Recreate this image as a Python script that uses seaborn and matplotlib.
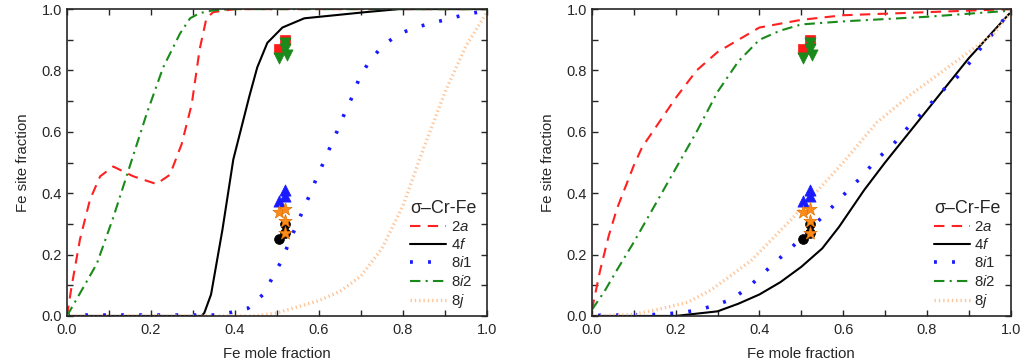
import numpy as np
import matplotlib
matplotlib.use("Agg")
import matplotlib.pyplot as plt
import seaborn as sns
from matplotlib.ticker import MultipleLocator

sns.set_theme(style="ticks")
plt.rcParams['font.family'] = ['Liberation Sans', 'DejaVu Sans']
plt.rcParams['mathtext.fontset'] = 'custom'
plt.rcParams['mathtext.it'] = 'Liberation Sans:italic'
plt.rcParams['mathtext.rm'] = 'Liberation Sans'

# ---- left panel curves ----
L_2a_x = [0.0, 0.011, 0.031, 0.055, 0.079, 0.11, 0.158, 0.213, 0.245, 0.273, 0.297, 0.316, 0.332, 0.348, 0.4, 1.0]
L_2a_y = [0.0, 0.096, 0.25, 0.38, 0.455, 0.487, 0.455, 0.43, 0.46, 0.56, 0.69, 0.87, 0.97, 0.99, 1.0, 1.0]
L_4f_x = [0.0, 0.32, 0.327, 0.343, 0.37, 0.396, 0.434, 0.453, 0.477, 0.513, 0.565, 0.71, 0.79, 1.0]
L_4f_y = [0.0, 0.0, 0.01, 0.07, 0.28, 0.51, 0.715, 0.81, 0.89, 0.94, 0.97, 0.99, 1.0, 1.0]
L_8i1_x = [0.0, 0.354, 0.392, 0.431, 0.47, 0.49, 0.511, 0.527, 0.544, 0.561, 0.578, 0.594, 0.611, 0.628,
           0.646, 0.662, 0.68, 0.695, 0.718, 0.751, 0.789, 0.829, 0.868, 0.908, 0.947, 0.987, 1.0]
L_8i1_y = [0.003, 0.003, 0.012, 0.025, 0.074, 0.128, 0.18, 0.234, 0.288, 0.342, 0.395, 0.449, 0.501, 0.555,
           0.611, 0.664, 0.717, 0.772, 0.826, 0.88, 0.918, 0.94, 0.954, 0.968, 0.982, 0.992, 0.995]
L_8i2_x = [0.0, 0.031, 0.071, 0.11, 0.15, 0.19, 0.229, 0.269, 0.293, 0.316, 0.348, 0.4, 1.0]
L_8i2_y = [0.0, 0.074, 0.17, 0.32, 0.49, 0.66, 0.81, 0.92, 0.97, 0.987, 0.996, 1.0, 1.0]
L_8j_x = [0.0, 0.45, 0.5, 0.55, 0.6, 0.65, 0.7, 0.75, 0.8, 0.85, 0.9, 0.95, 1.0]
L_8j_y = [0.0, 0.0, 0.01, 0.03, 0.05, 0.08, 0.13, 0.22, 0.36, 0.55, 0.73, 0.88, 0.99]

# ---- right panel curves ----
R_2a_x = [0.0, 0.02, 0.04, 0.06, 0.08, 0.1, 0.12, 0.15, 0.2, 0.25, 0.3, 0.35, 0.4, 0.5, 0.6, 0.8, 1.0]
R_2a_y = [0.02, 0.15, 0.26, 0.35, 0.42, 0.49, 0.55, 0.61, 0.71, 0.8, 0.86, 0.9, 0.94, 0.965, 0.98, 0.99, 1.0]
R_4f_x = [0.0, 0.2, 0.3, 0.35, 0.4, 0.45, 0.5, 0.55, 0.59, 0.65, 0.7, 0.8, 0.9, 1.0]
R_4f_y = [0.0, 0.0, 0.015, 0.04, 0.07, 0.11, 0.16, 0.22, 0.29, 0.41, 0.5, 0.67, 0.84, 0.99]
R_8i1_x = [0.015, 0.06, 0.1, 0.14, 0.18, 0.22, 0.255, 0.295, 0.335, 0.375, 0.41, 0.45, 0.49, 0.53,
           0.57, 0.605, 0.645, 0.68, 0.72, 0.755, 0.795, 0.83, 0.87, 0.905, 0.935, 0.97, 1.0]
R_8i1_y = [0.002, 0.003, 0.004, 0.004, 0.007, 0.012, 0.02, 0.035, 0.055, 0.095, 0.14, 0.19, 0.24, 0.295,
           0.35, 0.4, 0.455, 0.51, 0.56, 0.615, 0.67, 0.725, 0.775, 0.83, 0.885, 0.94, 1.0]
R_8i2_x = [0.0, 0.03, 0.06, 0.1, 0.15, 0.2, 0.25, 0.3, 0.35, 0.4, 0.45, 0.5, 0.6, 0.8, 0.9, 1.0]
R_8i2_y = [0.02, 0.08, 0.15, 0.24, 0.36, 0.48, 0.6, 0.73, 0.83, 0.9, 0.93, 0.95, 0.96, 0.975, 0.985, 0.995]
R_8j_x = [0.0, 0.1, 0.17, 0.23, 0.285, 0.33, 0.38, 0.43, 0.48, 0.52, 0.6, 0.68, 0.76, 0.84, 0.9, 0.96, 1.0]
R_8j_y = [0.0, 0.005, 0.025, 0.045, 0.085, 0.13, 0.18, 0.25, 0.32, 0.38, 0.5, 0.63, 0.72, 0.8, 0.86, 0.92, 0.99]

# ---- experimental points (same in both panels) ----
sq_x, sq_y = [0.505, 0.52], [0.87, 0.90]
tri_dn_x, tri_dn_y = [0.505, 0.52, 0.52, 0.525], [0.84, 0.89, 0.87, 0.85]
tri_up_x, tri_up_y = [0.505, 0.52, 0.52], [0.375, 0.41, 0.39]
circ_x, circ_y = [0.505, 0.52, 0.52], [0.25, 0.30, 0.27]
star_x, star_y = [0.505, 0.52, 0.52, 0.52], [0.34, 0.35, 0.31, 0.27]

labels = ["2$\\mathit{a}$", "4$\\mathit{f}$", "8$\\mathit{i}$1", "8$\\mathit{i}$2", "8$\\mathit{j}$"]
styles = [
    dict(color="#ff2020", linestyle=(0, (5, 3.5)), linewidth=1.5),
    dict(color="black", linestyle="-", linewidth=1.5),
    dict(color="#1a1aff", linestyle=(0, (0.8, 4.2)), linewidth=2.6),
    dict(color="#1a8a1a", linestyle=(0, (5, 2.5, 1, 2.5)), linewidth=1.5),
    dict(color="#ffc495", linestyle=(0, (0.4, 0.9)), linewidth=2.4),
]

panels = [
    [(L_2a_x, L_2a_y), (L_4f_x, L_4f_y), (L_8i1_x, L_8i1_y), (L_8i2_x, L_8i2_y), (L_8j_x, L_8j_y)],
    [(R_2a_x, R_2a_y), (R_4f_x, R_4f_y), (R_8i1_x, R_8i1_y), (R_8i2_x, R_8i2_y), (R_8j_x, R_8j_y)],
]

fig = plt.figure(figsize=(10.24, 3.64), dpi=100)
boxes = [[0.0654, 0.132, 0.4102, 0.843], [0.578, 0.132, 0.409, 0.843]]

for box, curves in zip(boxes, panels):
    ax = fig.add_axes(box)
    for (x, y), lab, st in zip(curves, labels, styles):
        sns.lineplot(x=x, y=y, ax=ax, label=lab, estimator=None, sort=False,
                     dash_capstyle="butt", **st)

    sns.scatterplot(x=sq_x, y=sq_y, ax=ax, marker="s", s=50, color="#ff1a1a", edgecolor="#ff1a1a", linewidth=0.5, zorder=5)
    sns.scatterplot(x=tri_dn_x, y=tri_dn_y, ax=ax, marker="v", s=65, color="#1a8a1a", edgecolor="#1a8a1a", linewidth=0.5, zorder=6)
    sns.scatterplot(x=tri_up_x, y=tri_up_y, ax=ax, marker="^", s=65, color="#1a1aff", edgecolor="#1a1aff", linewidth=0.5, zorder=5)
    sns.scatterplot(x=circ_x, y=circ_y, ax=ax, marker="o", s=50, color="black", edgecolor="black", linewidth=0.5, zorder=5)
    sns.scatterplot(x=star_x, y=star_y, ax=ax, marker="*", s=100, color="#ff8c1a", edgecolor="#e07000", linewidth=0.5, zorder=6)

    ax.set_xlim(0, 1)
    ax.set_ylim(0, 1)
    ax.xaxis.set_major_locator(MultipleLocator(0.2))
    ax.yaxis.set_major_locator(MultipleLocator(0.2))
    ax.xaxis.set_minor_locator(MultipleLocator(0.1))
    ax.yaxis.set_minor_locator(MultipleLocator(0.1))
    ax.tick_params(which="both", direction="in", top=True, right=True, length=4, width=1, labelsize=10.5)
    ax.tick_params(axis="x", pad=5)
    for sp in ax.spines.values():
        sp.set_linewidth(1.2)
        sp.set_visible(True)
    ax.set_xlabel("Fe mole fraction", fontsize=10.8, labelpad=7)
    ax.set_ylabel("Fe site fraction", fontsize=10.8, labelpad=8)

    leg = ax.legend(title="σ–Cr-Fe", loc="lower right", bbox_to_anchor=(1.0, -0.015),
                    frameon=False, fontsize=10.8, title_fontsize=12.8, handlelength=2.4,
                    handletextpad=0.3, labelspacing=0.22, borderaxespad=0.3)
    leg._legend_box.align = "left"

fig.savefig("out.png", dpi=100)
